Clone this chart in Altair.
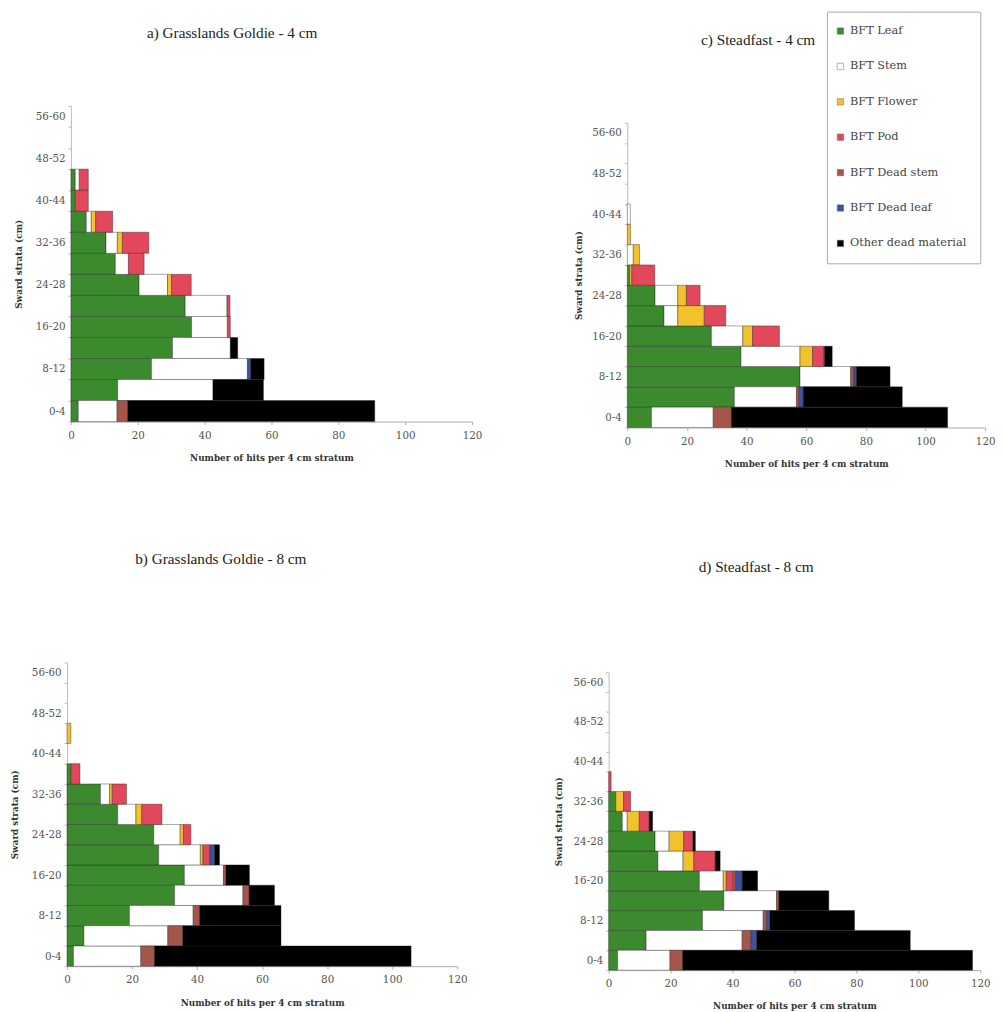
import altair as alt
import pandas as pd

strata = ["0-4", "4-8", "8-12", "12-16", "16-20", "20-24", "24-28", "28-32",
          "32-36", "36-40", "40-44", "44-48", "48-52", "52-56", "56-60"]
shown_strata = ["0-4", "8-12", "16-20", "24-28", "32-36", "40-44", "48-52", "56-60"]
components = ["BFT Leaf", "BFT Stem", "BFT Flower", "BFT Pod",
              "BFT Dead stem", "BFT Dead leaf", "Other dead material"]
colors = ["#3c8a2e", "#ffffff", "#f2c12e", "#e2475c", "#a5564b", "#3b52a3", "#000000"]
x_ticks = [0, 20, 40, 60, 80, 100, 120]

# a) Grasslands Goldie - 4 cm
a_leaf = [2.2, 14.0, 24.1, 30.4, 36.1, 34.2, 20.4, 13.3, 10.5, 4.6, 1.3, 1.3, 0, 0, 0]
a_stem = [11.6, 28.5, 28.7, 17.3, 10.7, 12.5, 8.5, 3.9, 3.4, 1.5, 0, 1.2, 0, 0, 0]
a_flower = [0, 0, 0, 0, 0, 0, 1.2, 0, 1.5, 1.3, 0, 0, 0, 0, 0]
a_pod = [0, 0, 0, 0, 0.9, 0.9, 5.9, 4.7, 7.9, 5.1, 3.9, 2.7, 0, 0, 0]
a_deadstem = [3.2, 0, 0, 0, 0, 0, 0, 0, 0, 0, 0, 0, 0, 0, 0]
a_deadleaf = [0, 0, 1.0, 0, 0, 0, 0, 0, 0, 0, 0, 0, 0, 0, 0]
a_other = [73.9, 15.1, 4.0, 2.2, 0, 0, 0, 0, 0, 0, 0, 0, 0, 0, 0]

# b) Grasslands Goldie - 8 cm
b_leaf = [2.0, 5.2, 19.2, 33.1, 36.1, 28.2, 26.7, 15.6, 10.3, 1.2, 0, 0, 0, 0, 0]
b_stem = [20.7, 25.8, 19.6, 21.0, 12.0, 12.8, 8.1, 5.6, 2.8, 0, 0, 0, 0, 0, 0]
b_flower = [0, 0, 0, 0, 0, 0.8, 1.0, 1.8, 0.8, 0, 0, 1.2, 0, 0, 0]
b_pod = [0, 0, 0, 0, 0, 2.1, 2.3, 6.2, 4.4, 2.8, 0, 0, 0, 0, 0]
b_deadstem = [4.2, 4.6, 2.0, 1.9, 0.8, 0, 0, 0, 0, 0, 0, 0, 0, 0, 0]
b_deadleaf = [0, 0, 0, 0, 0, 1.5, 0, 0, 0, 0, 0, 0, 0, 0, 0]
b_other = [78.9, 30.2, 25.0, 7.8, 7.2, 1.5, 0, 0, 0, 0, 0, 0, 0, 0, 0]

# c) Steadfast - 4 cm
c_leaf = [8.1, 35.9, 57.9, 38.1, 28.2, 12.3, 9.3, 0.8, 0, 0, 0, 0, 0, 0, 0]
c_stem = [20.7, 20.8, 17.0, 19.8, 10.5, 4.6, 7.6, 0, 2.0, 0, 1.0, 0, 0, 0, 0]
c_flower = [0, 0, 0, 4.2, 3.3, 8.9, 2.9, 0.7, 2.1, 1.1, 0, 0, 0, 0, 0]
c_pod = [0, 0, 0, 3.8, 9.0, 7.2, 4.6, 7.7, 0, 0, 0, 0, 0, 0, 0]
c_deadstem = [6.1, 0.9, 1.1, 0.3, 0, 0, 0, 0, 0, 0, 0, 0, 0, 0, 0]
c_deadleaf = [0, 1.4, 0.8, 0, 0, 0, 0, 0, 0, 0, 0, 0, 0, 0, 0]
c_other = [72.5, 33.2, 11.3, 2.5, 0, 0, 0, 0, 0, 0, 0, 0, 0, 0, 0]

# d) Steadfast - 8 cm
d_leaf = [2.9, 12.1, 30.3, 37.2, 29.3, 15.9, 15.0, 4.4, 2.3, 0, 0, 0, 0, 0, 0]
d_stem = [16.9, 31.0, 19.6, 17.0, 7.7, 8.1, 4.5, 1.6, 0, 0, 0, 0, 0, 0, 0]
d_flower = [0, 0, 0, 0, 1.0, 3.5, 4.7, 3.9, 2.5, 0, 0, 0, 0, 0, 0]
d_pod = [0, 0, 0, 0, 2.2, 6.9, 3.0, 3.2, 2.3, 0.8, 0, 0, 0, 0, 0]
d_deadstem = [4.1, 2.8, 1.1, 0.8, 0.8, 0, 0, 0, 0, 0, 0, 0, 0, 0, 0]
d_deadleaf = [0, 1.9, 1.1, 0, 2.1, 0, 0, 0, 0, 0, 0, 0, 0, 0, 0]
d_other = [93.6, 49.6, 27.3, 16.1, 5.0, 1.6, 0.8, 1.1, 0, 0, 0, 0, 0, 0, 0]

panels = {
    "a": [a_leaf, a_stem, a_flower, a_pod, a_deadstem, a_deadleaf, a_other],
    "b": [b_leaf, b_stem, b_flower, b_pod, b_deadstem, b_deadleaf, b_other],
    "c": [c_leaf, c_stem, c_flower, c_pod, c_deadstem, c_deadleaf, c_other],
    "d": [d_leaf, d_stem, d_flower, d_pod, d_deadstem, d_deadleaf, d_other],
}

rows = []
for key, series in panels.items():
    for ci, (comp, vals) in enumerate(zip(components, series)):
        for s, v in zip(strata, vals):
            if v > 0:
                rows.append({"panel": key, "stratum": s, "component": comp,
                             "idx": ci, "value": v})
df = pd.DataFrame(rows)

SERIF = "Liberation Serif"
WIDE = "DejaVu Serif"
label_expr = "indexof(" + str(shown_strata) + ", datum.value) >= 0 ? datum.value : ''"


def panel(key, title, width, height, title_dx, title_offset, ytitle_pad,
          y_range=None, x_shift=0, legend=None):
    yscale = dict(domain=strata[::-1], paddingInner=0, paddingOuter=0)
    if y_range is not None:
        yscale["range"] = y_range
    xscale = dict(domain=[0, 120], nice=False)
    if x_shift:
        xscale["range"] = [-x_shift, width - x_shift]
    return alt.Chart(df[df.panel == key]).mark_bar(
        stroke="#222", strokeWidth=0.5, strokeOpacity=0.8
    ).encode(
        x=alt.X("value:Q", stack="zero", scale=alt.Scale(**xscale),
                axis=alt.Axis(values=x_ticks, title="Number of hits per 4 cm stratum",
                              grid=False, tickSize=3, tickColor="#aaa",
                              domainColor="#aaa", labelFont=WIDE, labelFontSize=10.5,
                              labelColor="#555", labelPadding=6, labelFlush=False,
                              titleFont=WIDE, titleFontSize=9, titleFontWeight="bold",
                              titleColor="#333", titlePadding=13)),
        y=alt.Y("stratum:N", sort=strata[::-1], scale=alt.Scale(**yscale),
                axis=alt.Axis(title="Sward strata (cm)", labelExpr=label_expr,
                              tickBand="extent", tickSize=3, tickColor="#bbb",
                              domainColor="#bbb", labelFont=WIDE, labelFontSize=10.5,
                              labelColor="#555", labelPadding=3, offset=x_shift,
                              titleFont=WIDE, titleFontSize=9, titleFontWeight="bold",
                              titleColor="#333", titlePadding=ytitle_pad)),
        color=alt.Color("component:N", scale=alt.Scale(domain=components, range=colors),
                        legend=legend),
        order=alt.Order("idx:Q", sort="ascending"),
    ).properties(
        width=width, height=height,
        title=alt.Title(title, font=SERIF, fontSize=15.5, fontWeight="normal",
                        color="#222", anchor="middle", dx=title_dx, offset=title_offset),
    )


legend = alt.Legend(orient="none", legendX=769, legendY=-96, title=None,
                    symbolType="square", symbolSize=42, symbolStrokeColor="#666",
                    symbolStrokeWidth=0.5, symbolOffset=-6, labelFont=WIDE,
                    labelFontSize=11.5, labelColor="#444", rowPadding=23,
                    strokeColor="#aaa", fillColor="#ffffff", padding=14,
                    labelLimit=200)

pa = panel("a", "a) Grasslands Goldie - 4 cm", 408, 321, -40, 61, 12, legend=legend)
pc = panel("c", "c) Steadfast - 4 cm", 364, 327, -49, 54, 8, y_range=[17, 327])
pb = panel("b", "b) Grasslands Goldie - 8 cm", 397, 309, -46, 92, 12, x_shift=4)
pd_ = panel("d", "d) Steadfast - 8 cm", 378, 313, -39, 84, 10, y_range=[10, 313])

row1 = alt.hconcat(pa, pc, spacing=93)
row2 = alt.hconcat(pb, pd_, spacing=87)

chart = alt.vconcat(row1, row2, spacing=84).properties(
    padding={"left": 2, "top": -6, "right": 0, "bottom": 0}
).configure_view(stroke=None)

chart.save("out.html", embed_options={"renderer": "svg", "actions": False})
